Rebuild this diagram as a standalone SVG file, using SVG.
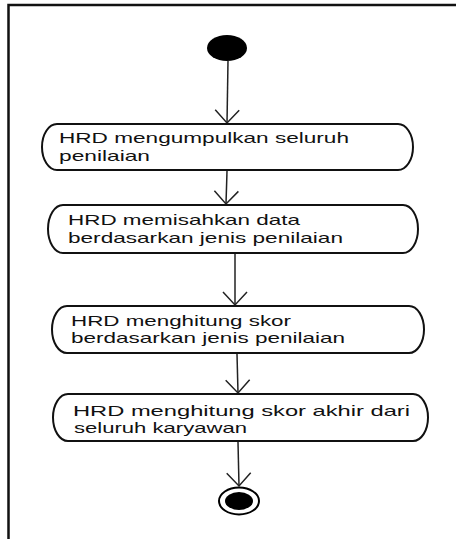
<svg xmlns="http://www.w3.org/2000/svg" width="456" height="539" viewBox="0 0 456 539">
  <style>
    .frame { stroke: #111; stroke-width: 2.5; fill: none; }
    .action { fill: #fff; stroke: #111; stroke-width: 2; }
    .label { font-family: "Liberation Sans", Arial, sans-serif; font-size: 14.5px; fill: #111; }
    .flow { stroke: #222; stroke-width: 1.5; fill: none; marker-end: url(#open-arrow); }
  </style>
  <defs>
    <marker id="open-arrow" markerUnits="userSpaceOnUse" markerWidth="30" markerHeight="30" refX="0" refY="0" viewBox="-15 -15 30 30" orient="auto" overflow="visible">
      <path d="M-13,-12 L0,0 L-13,12" fill="none" stroke="#222" stroke-width="1.5"/>
    </marker>
  </defs>

  <rect width="456" height="539" fill="#fff"/>

  <!-- frame: top and left edges -->
  <path class="frame" d="M8.5,539 L8.5,5 L456,5"/>

  <!-- control flows -->
  <g id="connectors">
    <path class="flow" d="M228,61 L227,123"/>
    <path class="flow" d="M227,171 L226,204"/>
    <path class="flow" d="M235,254 L235,305"/>
    <path class="flow" d="M237,354 L238,393"/>
    <path class="flow" d="M238,442 L239,486"/>
  </g>

  <g id="start">
    <ellipse cx="227" cy="48" rx="20" ry="13" fill="#000"/>
  </g>

  <g id="act-kumpul">
    <rect class="action" x="42" y="124" width="371" height="46" rx="15" ry="23"/>
    <text class="label" x="59" y="143" textLength="290" lengthAdjust="spacingAndGlyphs">HRD mengumpulkan seluruh</text>
    <text class="label" x="59" y="161" textLength="91" lengthAdjust="spacingAndGlyphs">penilaian</text>
  </g>

  <g id="act-pisah">
    <rect class="action" x="48" y="205" width="370" height="48" rx="15" ry="24"/>
    <text class="label" x="68" y="225" textLength="232" lengthAdjust="spacingAndGlyphs">HRD memisahkan data</text>
    <text class="label" x="68" y="243" textLength="275" lengthAdjust="spacingAndGlyphs">berdasarkan jenis penilaian</text>
  </g>

  <g id="act-skor">
    <rect class="action" x="52" y="306" width="372" height="47" rx="15" ry="23.5"/>
    <text class="label" x="71" y="326" textLength="220" lengthAdjust="spacingAndGlyphs">HRD menghitung skor</text>
    <text class="label" x="71" y="343" textLength="274" lengthAdjust="spacingAndGlyphs">berdasarkan jenis penilaian</text>
  </g>

  <g id="act-akhir">
    <rect class="action" x="53" y="394" width="375" height="47" rx="15" ry="23.5"/>
    <text class="label" x="73" y="416" textLength="337" lengthAdjust="spacingAndGlyphs">HRD menghitung skor akhir dari</text>
    <text class="label" x="74" y="433" textLength="173" lengthAdjust="spacingAndGlyphs">seluruh karyawan</text>
  </g>

  <g id="end">
    <ellipse cx="239" cy="501" rx="20" ry="13.5" fill="#fff" stroke="#000" stroke-width="2"/>
    <ellipse cx="239" cy="501" rx="14" ry="9" fill="#000"/>
  </g>
</svg>
